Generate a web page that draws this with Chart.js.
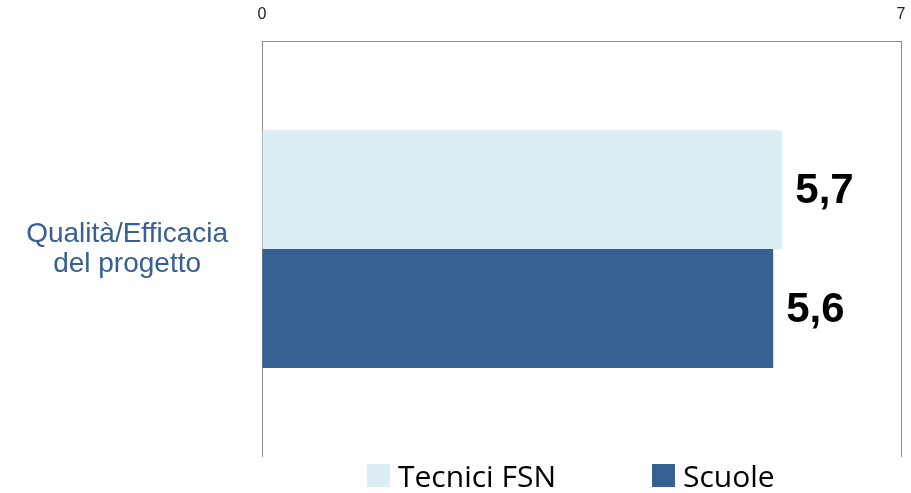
<!DOCTYPE html>
<html>
<head>
<meta charset="utf-8">
<script src="https://cdn.jsdelivr.net/npm/chart.js@4/dist/chart.umd.min.js"></script>
<style>
  html, body { margin: 0; padding: 0; background: #fff; overflow: hidden; }
  #wrap { position: relative; width: 911px; height: 493px; }
  #legend {
    position: absolute; left: 367px; top: 457px; height: 36px;
    display: flex; align-items: center; gap: 96px;
    font-family: "Open Sans", sans-serif; font-size: 30px; color: #000;
  }
  #legend .item { display: flex; align-items: center; white-space: nowrap; }
  #legend .box { width: 23px; height: 23px; margin-right: 8px; }
</style>
</head>
<body>
<div id="wrap"><canvas id="chart"></canvas><div id="legend"></div></div>
<script>
const categories = [["Qualità/Efficacia", "del progetto"]];
const seriesNames = ["Tecnici FSN", "Scuole"];
const tecniciValues = [5.7];
const scuoleValues = [5.6];
const xTicks = [0, 7];

const colors = ["#DAEEF3", "#376092"];

// writes "5,7" style values right of each bar end
const valueLabels = {
  id: "valueLabels",
  afterDatasetsDraw(chart) {
    const ctx = chart.ctx;
    ctx.save();
    ctx.font = "bold 42px 'Liberation Sans', Arial, sans-serif";
    ctx.fillStyle = "#000";
    ctx.textAlign = "left";
    ctx.textBaseline = "middle";
    chart.data.datasets.forEach((ds, i) => {
      chart.getDatasetMeta(i).data.forEach((bar, j) => {
        const txt = ds.data[j].toFixed(1).replace(".", ",");
        ctx.fillText(txt, bar.x + 13, bar.y + 2);
      });
    });
    ctx.restore();
  },
};

// legend as html, built from the chart's own legend items
const htmlLegend = {
  id: "htmlLegend",
  afterUpdate(chart) {
    const box = document.getElementById("legend");
    box.innerHTML = "";
    chart.options.plugins.legend.labels.generateLabels(chart).forEach((item) => {
      const el = document.createElement("div");
      el.className = "item";
      const sq = document.createElement("span");
      sq.className = "box";
      sq.style.background = item.fillStyle;
      el.appendChild(sq);
      el.appendChild(document.createTextNode(item.text));
      box.appendChild(el);
    });
  },
};

const data = {
  labels: categories,
  datasets: [
    {
      label: seriesNames[0],
      data: tecniciValues,
      backgroundColor: colors[0],
      categoryPercentage: 0.572,
      barPercentage: 1,
    },
    {
      label: seriesNames[1],
      data: scuoleValues,
      backgroundColor: colors[1],
      categoryPercentage: 0.572,
      barPercentage: 1,
    },
  ],
};

const config = {
  type: "bar",
  data: data,
  options: {
    indexAxis: "y",
    responsive: true,
    maintainAspectRatio: false,
    animation: false,
    layout: { padding: { top: -12, right: 10, left: 0, bottom: 36 } },
    scales: {
      x: {
        position: "top",
        min: 0,
        max: 7,
        afterBuildTicks: (scale) => {
          scale.ticks = xTicks.map((v) => ({ value: v }));
        },
        afterFit: (scale) => {
          scale.paddingLeft = 0;
          scale.paddingRight = 0;
        },
        grid: { color: "#8c8c8c", lineWidth: 1, drawTicks: false },
        border: { display: true, color: "#8c8c8c" },
        ticks: {
          padding: 17,
          color: "#222",
          maxRotation: 0,
          font: { family: "'Liberation Sans', Arial, sans-serif", size: 16 },
        },
      },
      y: {
        grid: { display: false, drawTicks: false },
        border: { display: false },
        afterFit: (scale) => {
          scale.width = 262;
          scale.paddingTop = 0;
          scale.paddingBottom = 0;
        },
        ticks: {
          crossAlign: "center",
          padding: 34,
          color: "#376092",
          font: { family: "'Liberation Sans', Arial, sans-serif", size: 28, lineHeight: 1.07 },
        },
      },
    },
    plugins: {
      legend: { display: false },
      tooltip: { enabled: false },
    },
  },
  plugins: [valueLabels, htmlLegend],
};

const myChart = new Chart(document.getElementById("chart"), config);
</script>
</body>
</html>
